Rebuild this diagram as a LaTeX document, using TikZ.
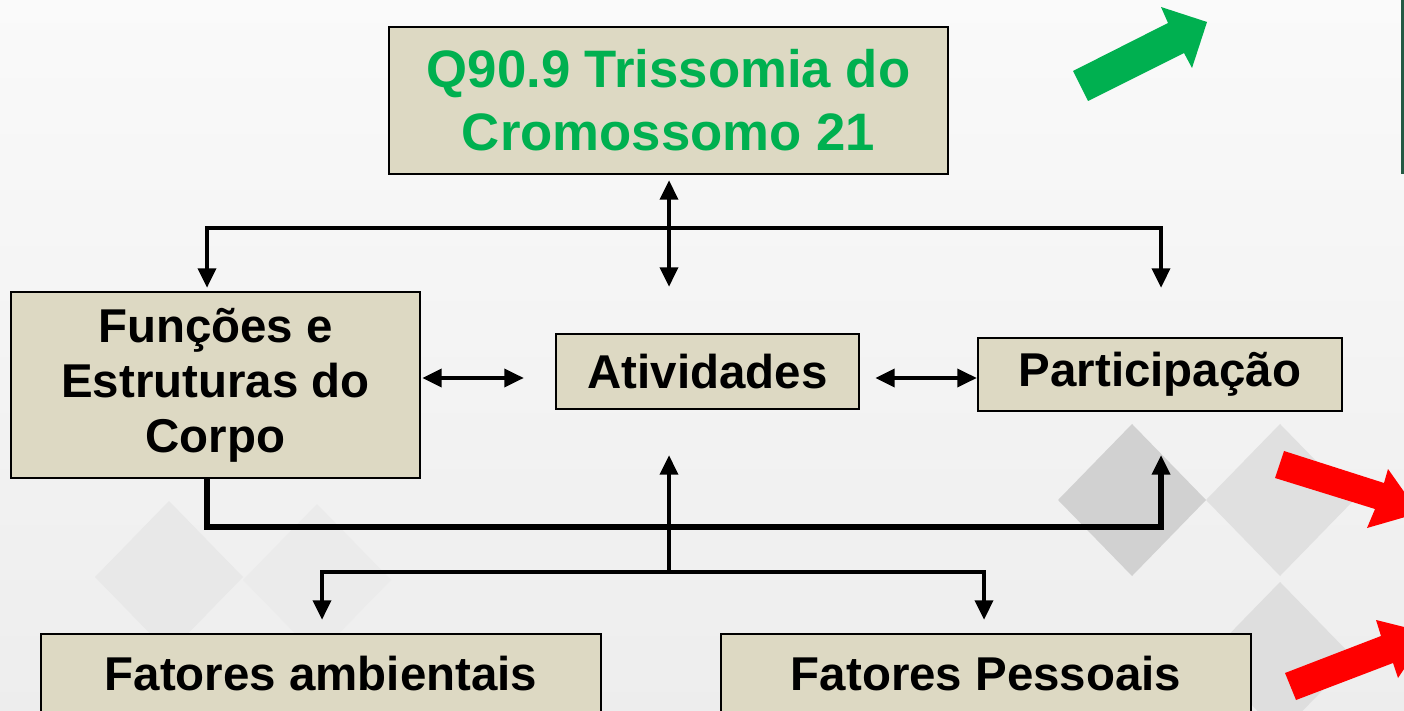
\documentclass[tikz,border=0pt]{standalone}
\usepackage{fontspec}
\setmainfont{Liberation Sans}
\usetikzlibrary{arrows.meta, positioning}

\definecolor{boxtan}{HTML}{DDD9C3}
\definecolor{icdgreen}{HTML}{00B050}
\definecolor{edgegreen}{HTML}{245A44}
\definecolor{alertred}{HTML}{FF0000}

\begin{document}
\begin{tikzpicture}[
    box_style/.style={draw=black, line width=0.7pt, fill=boxtan, inner sep=0pt, align=center,
        font=\bfseries\fontsize{13.5}{15.6}\selectfont},
    link_style/.style={line width=1.35pt, black},
    arrow_style/.style={link_style, -{Triangle[length=5.6pt, width=5pt]}},
    both_style/.style={link_style, {Triangle[length=5.6pt, width=5pt]}-{Triangle[length=5.6pt, width=5pt]}}
]

    \useasboundingbox (0,0) rectangle (14.04,-7.11);
    \clip (0,0) rectangle (14.04,-7.11);

    % Background
    \shade[top color=black!2, bottom color=black!7] (0,0) rectangle (14.04,-7.11);
    \foreach \cx/\cy/\tone in {11.32/-5.00/black!18, 12.80/-5.00/black!12, 12.80/-6.58/black!13,
                               1.69/-5.77/black!9, 3.17/-5.80/black!8}
        \fill[\tone] (\cx-0.74,\cy) -- (\cx,\cy+0.76) -- (\cx+0.74,\cy) -- (\cx,\cy-0.76) -- cycle;

    % Boxes
    \node[box_style, text=icdgreen, font=\bfseries\fontsize{15}{17.9}\selectfont,
          minimum width=5.59cm, minimum height=1.47cm] (cid) at (6.685,-1.005) {Q90.9 Trissomia do\\Cromossomo 21};
    \node[box_style, minimum width=4.09cm, minimum height=1.86cm] (body) at (2.155,-3.85) {Funções e\\Estruturas do\\Corpo};
    \node[box_style, minimum width=3.03cm, minimum height=0.75cm] (act) at (7.075,-3.715) {Atividades};
    \node[box_style, minimum width=3.64cm, minimum height=0.73cm] (part) at (11.60,-3.745) {Participação};
    \node[box_style, minimum width=5.60cm, minimum height=0.80cm] (env) at (3.21,-6.74) {Fatores ambientais};
    \node[box_style, minimum width=5.30cm, minimum height=0.80cm] (pers) at (9.86,-6.74) {Fatores Pessoais};

    % Link ends
    \coordinate (top_hub) at (6.69,-2.28);
    \coordinate (cid_tip) at (6.69,-1.80);
    \coordinate (act_top) at (6.69,-2.87);
    \coordinate (body_top) at (2.07,-2.88);
    \coordinate (part_top) at (11.61,-2.88);
    \coordinate (body_side) at (4.22,-3.78);
    \coordinate (act_left) at (5.24,-3.78);
    \coordinate (act_right) at (8.75,-3.78);
    \coordinate (part_left) at (9.77,-3.78);
    \coordinate (low_right) at (11.61,-5.27);
    \coordinate (part_foot) at (11.61,-4.55);
    \coordinate (low_hub) at (6.69,-5.72);
    \coordinate (act_foot) at (6.69,-4.55);
    \coordinate (env_top) at (3.22,-6.20);
    \coordinate (pers_top) at (9.84,-6.20);

    % Upper links
    \draw[both_style] (cid_tip) -- (act_top);
    \draw[arrow_style] (top_hub) -| (body_top);
    \draw[arrow_style] (top_hub) -| (part_top);

    % Side links
    \draw[both_style] (body_side) -- (act_left);
    \draw[both_style] (act_right) -- (part_left);

    % Lower links
    \draw[arrow_style, line width=1.6pt] (body.south -| body_top) |- (low_right) -- (part_foot);
    \draw[arrow_style] (low_hub) -- (act_foot);
    \draw[arrow_style] (low_hub) -| (env_top);
    \draw[arrow_style] (low_hub) -| (pers_top);

    % Slide marks
    \fill[icdgreen] (10.73,-0.71) -- (11.68,-0.23) -- (11.61,-0.07) -- (12.07,-0.22)
        -- (11.92,-0.68) -- (11.84,-0.53) -- (10.88,-1.01) -- cycle;
    \fill[alertred] (12.84,-4.51) -- (13.84,-4.83) -- (13.88,-4.69) -- (14.19,-5.13)
        -- (13.67,-5.28) -- (13.75,-5.09) -- (12.75,-4.78) -- cycle;
    \fill[alertred] (12.85,-6.73) -- (13.81,-6.36) -- (13.76,-6.20) -- (14.28,-6.33)
        -- (13.98,-6.78) -- (13.93,-6.63) -- (12.96,-7.00) -- cycle;
    \fill[edgegreen] (14.01,0) rectangle (14.04,-1.74);

\end{tikzpicture}
\end{document}
